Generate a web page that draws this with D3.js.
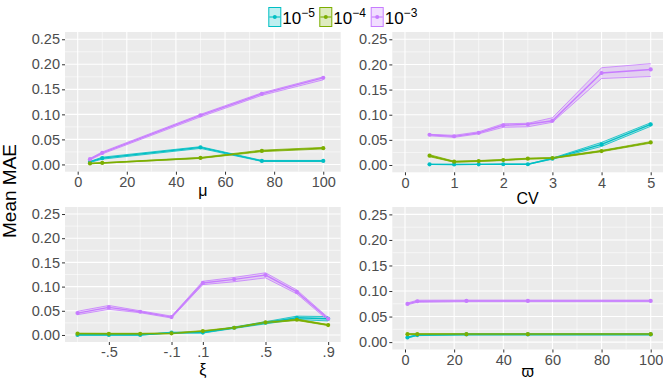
<!DOCTYPE html>
<html>
<head>
<meta charset="utf-8">
<script src="https://cdn.jsdelivr.net/npm/d3@7"></script>
<style>
  html, body { margin: 0; padding: 0; background: #fff; }
  svg { display: block; font-family: "Liberation Sans", Arial, sans-serif; }
</style>
</head>
<body>
<svg id="chart" width="663" height="381"></svg>
<script>
// series names (legend order) and colours
const seriesNames = ['-5', '-4', '-3'];
const seriesColors = ['#00BFC4', '#7CAE00', '#C77CFF'];

// panel 1: mu
const muX = [5, 10, 50, 75, 100];
const mu5 = [0.005, 0.0126, 0.034, 0.007, 0.007];
const mu5Lo = [0.004, 0.0105, 0.032, 0.006, 0.006];
const mu5Hi = [0.006, 0.0145, 0.0355, 0.008, 0.008];
const mu4 = [0.002, 0.003, 0.013, 0.027, 0.0325];
const mu4Lo = [0.0015, 0.0025, 0.012, 0.0255, 0.031];
const mu4Hi = [0.0025, 0.0035, 0.014, 0.0285, 0.034];
const mu3 = [0.0106, 0.023, 0.098, 0.141, 0.173];
const mu3Lo = [0.009, 0.021, 0.095, 0.138, 0.169];
const mu3Hi = [0.012, 0.025, 0.100, 0.143, 0.175];

// panel 2: CV
const cvX = [0.5, 1, 1.5, 2, 2.5, 3, 4, 5];
const cv5 = [0.0013, 0.001, 0.0013, 0.0015, 0.0015, 0.0126, 0.041, 0.0807];
const cv5Lo = [0.001, 0.0008, 0.001, 0.0012, 0.0012, 0.0115, 0.037, 0.077];
const cv5Hi = [0.0016, 0.0012, 0.0016, 0.0018, 0.0018, 0.0137, 0.045, 0.084];
const cv4 = [0.0185, 0.0066, 0.0079, 0.0099, 0.0126, 0.0139, 0.0278, 0.045];
const cv4Lo = [0.0165, 0.0056, 0.0069, 0.0089, 0.0116, 0.0129, 0.0265, 0.0435];
const cv4Hi = [0.0205, 0.0076, 0.0089, 0.0109, 0.0136, 0.0149, 0.029, 0.0465];
const cv3 = [0.0602, 0.057, 0.064, 0.079, 0.081, 0.088, 0.183, 0.190];
const cv3Lo = [0.058, 0.055, 0.062, 0.075, 0.076, 0.085, 0.172, 0.176];
const cv3Hi = [0.061, 0.059, 0.066, 0.082, 0.083, 0.094, 0.1935, 0.2016];

// panel 3: xi
const xiX = [-0.7, -0.5, -0.3, -0.1, 0.1, 0.3, 0.5, 0.7, 0.9];
const xi5 = [0.0, 0.0, 0.0, 0.0048, 0.005, 0.015, 0.0253, 0.0356, 0.0335];
const xi5Lo = [0.0, 0.0, 0.0, 0.0038, 0.004, 0.0135, 0.023, 0.032, 0.029];
const xi5Hi = [0.0008, 0.0008, 0.0008, 0.0058, 0.006, 0.0165, 0.0275, 0.039, 0.038];
const xi4 = [0.0028, 0.0025, 0.0025, 0.0034, 0.008, 0.015, 0.026, 0.0315, 0.0205];
const xi4Lo = [0.0018, 0.0015, 0.0015, 0.0024, 0.007, 0.014, 0.0245, 0.030, 0.0195];
const xi4Hi = [0.0038, 0.0035, 0.0035, 0.0044, 0.009, 0.016, 0.0275, 0.033, 0.0215];
const xi3 = [0.0452, 0.057, 0.048, 0.037, 0.1075, 0.115, 0.1239, 0.089, 0.0335];
const xi3Lo = [0.042, 0.053, 0.046, 0.035, 0.104, 0.110, 0.118, 0.085, 0.030];
const xi3Hi = [0.049, 0.061, 0.050, 0.039, 0.111, 0.119, 0.1285, 0.093, 0.036];

// panel 4: varpi
const wX = [1, 5, 25, 50, 100];
const w5 = [0.009, 0.0137, 0.015, 0.015, 0.015];
const w5Lo = [0.008, 0.0127, 0.014, 0.014, 0.014];
const w5Hi = [0.010, 0.0147, 0.016, 0.016, 0.016];
const w4 = [0.0156, 0.0156, 0.0156, 0.0156, 0.0156];
const w4Lo = [0.0146, 0.0146, 0.0146, 0.0146, 0.0146];
const w4Hi = [0.0166, 0.0166, 0.0166, 0.0166, 0.0166];
const w3 = [0.0748, 0.080, 0.0807, 0.0807, 0.0807];
const w3Lo = [0.073, 0.078, 0.0792, 0.0792, 0.0792];
const w3Hi = [0.0765, 0.082, 0.0822, 0.0822, 0.0822];

// axis ticks
const yTicks = [0, 0.05, 0.10, 0.15, 0.20, 0.25];
const yTickLabels = ['0.00', '0.05', '0.10', '0.15', '0.20', '0.25'];
const hundredTicks = [0, 20, 40, 60, 80, 100];
const cvTicks = [0, 1, 2, 3, 4, 5];
const xiTicks = [-0.5, -0.1, 0.1, 0.5, 0.9];
const xiTickLabels = ['-.5', '-.1', '.1', '.5', '.9'];

const svg = d3.select('#chart');
const yDomain = [-0.0145, 0.2645];

function minorBetween(ticks, lo, hi) {
    // midpoints of major breaks, plus one step outside each end
    const out = [];
    out.push(ticks[0] - (ticks[1] - ticks[0]) / 2);
    for (let i = 0; i < ticks.length - 1; i++) out.push((ticks[i] + ticks[i + 1]) / 2);
    out.push(ticks[ticks.length - 1] + (ticks[ticks.length - 1] - ticks[ticks.length - 2]) / 2);
    return out.filter(v => v > lo && v < hi);
}

function drawPanel(p) {
    const x = d3.scaleLinear().domain(p.xDomain).range([p.left, p.right]);
    const y = d3.scaleLinear().domain(yDomain).range([p.bottom, p.top]);
    const g = svg.append('g');
    const clipId = 'clip' + p.id;
    svg.append('clipPath').attr('id', clipId)
        .append('rect')
        .attr('x', p.left).attr('y', p.top)
        .attr('width', p.right - p.left).attr('height', p.bottom - p.top);

    g.append('rect')
        .attr('x', p.left).attr('y', p.top)
        .attr('width', p.right - p.left).attr('height', p.bottom - p.top)
        .attr('fill', '#EBEBEB');

    const grid = g.append('g').attr('clip-path', `url(#${clipId})`);
    const yMinor = minorBetween(yTicks, yDomain[0], yDomain[1]);
    const xMinor = minorBetween(p.xTicks, p.xDomain[0], p.xDomain[1]);
    grid.selectAll('.ymin').data(yMinor).join('line')
        .attr('x1', p.left).attr('x2', p.right)
        .attr('y1', d => y(d)).attr('y2', d => y(d))
        .attr('stroke', '#fff').attr('stroke-width', 0.55);
    grid.selectAll('.xmin').data(xMinor).join('line')
        .attr('y1', p.top).attr('y2', p.bottom)
        .attr('x1', d => x(d)).attr('x2', d => x(d))
        .attr('stroke', '#fff').attr('stroke-width', 0.55);
    grid.selectAll('.ymaj').data(yTicks).join('line')
        .attr('x1', p.left).attr('x2', p.right)
        .attr('y1', d => y(d)).attr('y2', d => y(d))
        .attr('stroke', '#fff').attr('stroke-width', 1.1);
    grid.selectAll('.xmaj').data(p.xTicks).join('line')
        .attr('y1', p.top).attr('y2', p.bottom)
        .attr('x1', d => x(d)).attr('x2', d => x(d))
        .attr('stroke', '#fff').attr('stroke-width', 1.1);

    // data layers
    const plot = g.append('g').attr('clip-path', `url(#${clipId})`);
    const area = d3.area().x(d => x(d.x)).y0(d => y(d.lo)).y1(d => y(d.hi));
    const lineLo = d3.line().x(d => x(d.x)).y(d => y(d.lo));
    const lineHi = d3.line().x(d => x(d.x)).y(d => y(d.hi));
    const lineM = d3.line().x(d => x(d.x)).y(d => y(d.m));

    const rows = p.series.map((s, i) => p.xs.map((v, j) => ({x: v, m: s[0][j], lo: s[1][j], hi: s[2][j], c: seriesColors[i]})));

    rows.forEach(r => {
        plot.append('path').datum(r).attr('d', area)
            .attr('fill', r[0].c).attr('fill-opacity', 0.25);
        plot.append('path').datum(r).attr('d', lineLo)
            .attr('fill', 'none').attr('stroke', r[0].c).attr('stroke-width', 0.8);
        plot.append('path').datum(r).attr('d', lineHi)
            .attr('fill', 'none').attr('stroke', r[0].c).attr('stroke-width', 0.8);
    });
    rows.forEach(r => {
        plot.append('path').datum(r).attr('d', lineM)
            .attr('fill', 'none').attr('stroke', r[0].c).attr('stroke-width', 1.4);
    });
    rows.forEach(r => {
        plot.selectAll(null).data(r).join('circle')
            .attr('cx', d => x(d.x)).attr('cy', d => y(d.m))
            .attr('r', 2.1).attr('fill', d => d.c);
    });

    // axes
    const yAxis = g.append('g').attr('transform', `translate(${p.left},0)`)
        .call(d3.axisLeft(y).tickValues(yTicks).tickSize(3).tickPadding(2)
            .tickFormat((d, i) => yTickLabels[i]));
    const xAxis = g.append('g').attr('transform', `translate(0,${p.bottom})`)
        .call(d3.axisBottom(x).tickValues(p.xTicks).tickSize(3).tickPadding(2)
            .tickFormat((d, i) => p.xTickLabels[i]));
    [xAxis, yAxis].forEach(a => {
        a.select('.domain').remove();
        a.selectAll('.tick line').attr('stroke', '#333').attr('stroke-width', 1);
        a.selectAll('.tick text').attr('fill', '#4D4D4D')
            .style('font-size', '14.5px').style('font-family', '"Liberation Sans", Arial, sans-serif');
    });

    g.append('text')
        .attr('x', (p.left + Math.min(p.right, 663)) / 2 + (p.titleDx || 0))
        .attr('y', p.titleY)
        .attr('text-anchor', 'middle')
        .attr('fill', '#000')
        .style('font-size', '16px')
        .text(p.title);
}

const panels = [
    {id: 1, left: 65, right: 340.7, top: 32, bottom: 171.7, xDomain: [-5.17, 107.1],
     xTicks: hundredTicks, xTickLabels: hundredTicks.map(String), xs: muX,
     series: [[mu5, mu5Lo, mu5Hi], [mu4, mu4Lo, mu4Hi], [mu3, mu3Lo, mu3Hi]],
     title: 'μ', titleY: 196},
    {id: 2, left: 392.3, right: 663, top: 32, bottom: 172.3, xDomain: [-0.258, 5.25],
     xTicks: cvTicks, xTickLabels: cvTicks.map(String), xs: cvX,
     series: [[cv5, cv5Lo, cv5Hi], [cv4, cv4Lo, cv4Hi], [cv3, cv3Lo, cv3Hi]],
     title: 'CV', titleY: 204},
    {id: 3, left: 65, right: 340.7, top: 207, bottom: 342, xDomain: [-0.78, 0.98],
     xTicks: xiTicks, xTickLabels: xiTickLabels, xs: xiX,
     series: [[xi5, xi5Lo, xi5Hi], [xi4, xi4Lo, xi4Hi], [xi3, xi3Lo, xi3Hi]],
     title: 'ξ', titleY: 375},
    {id: 4, left: 392.3, right: 663, top: 207, bottom: 349.5, xDomain: [-5.17, 105],
     xTicks: hundredTicks, xTickLabels: hundredTicks.map(String), xs: wX,
     series: [[w5, w5Lo, w5Hi], [w4, w4Lo, w4Hi], [w3, w3Lo, w3Hi]],
     title: 'ϖ', titleY: 377}
];
panels.forEach(drawPanel);

// shared y title
svg.append('text')
    .attr('transform', 'translate(16,191) rotate(-90)')
    .attr('text-anchor', 'middle')
    .style('font-size', '19px')
    .attr('fill', '#000')
    .text('Mean MAE');

// legend
const legendX = [268.3, 319.3, 370.7];
const legend = svg.append('g');
seriesNames.forEach((name, i) => {
    const k = legend.append('g').attr('transform', `translate(${legendX[i]},7)`);
    k.append('rect').attr('x', 0.5).attr('y', 0.5).attr('width', 12).attr('height', 19)
        .attr('fill', seriesColors[i]).attr('fill-opacity', 0.25)
        .attr('stroke', seriesColors[i]).attr('stroke-width', 1);
    k.append('line').attr('x1', 1).attr('x2', 12).attr('y1', 10).attr('y2', 10)
        .attr('stroke', seriesColors[i]).attr('stroke-width', 1.1);
    k.append('circle').attr('cx', 6.5).attr('cy', 10).attr('r', 2).attr('fill', seriesColors[i]);
    const t = k.append('text').attr('x', 14).attr('y', 17)
        .style('font-size', '17px').attr('fill', '#000');
    t.append('tspan').text('10');
    t.append('tspan').attr('dy', -7).style('font-size', '12px').text(name.replace('-', '\u2212'));
});
</script>
</body>
</html>
